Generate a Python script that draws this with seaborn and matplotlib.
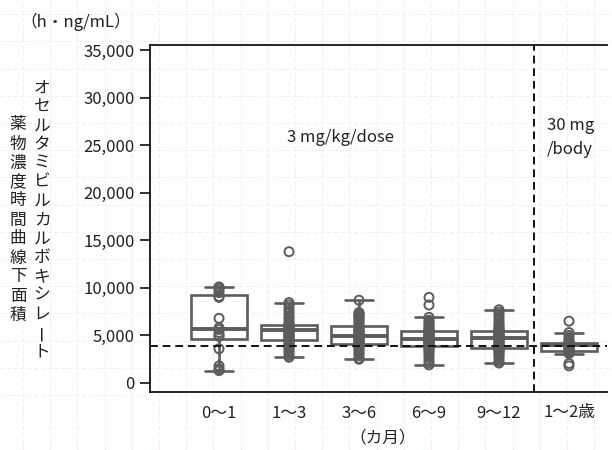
import numpy as np
import pandas as pd
import matplotlib
matplotlib.use("Agg")
import matplotlib.pyplot as plt
from matplotlib.lines import Line2D
import seaborn as sns

# AUC of oseltamivir carboxylate by age group (h・ng/mL)
categories = ["0〜1", "1〜3", "3〜6", "6〜9", "9〜12", "1〜2歳"]
auc_0_1 = [1300, 1500, 1800, 3600, 4900, 5000, 5300, 5600, 5800, 6800,
           9000, 9100, 9500, 9800, 10000, 10100]
auc_1_3 = [2700, 2900, 3200, 3400, 3600, 3800, 3900, 4000, 4100, 4300,
           4500, 4600, 4700, 4800, 4900, 5000, 5100, 5200, 5300, 5400,
           5550, 5600, 5650, 5700, 5750, 5800, 5850, 5900, 5950, 6000,
           6100, 6300, 6500, 6800, 7000, 7300, 7600, 7900, 8200, 8450, 13800]
auc_3_6 = [2500, 2600, 2900, 3100, 3300, 3500, 3700, 3800, 3900, 4000,
           4100, 4200, 4300, 4400, 4500, 4600, 4700, 4750, 4800, 4900,
           4950, 5000, 5100, 5200, 5300, 5400, 5500, 5600, 5700, 5850,
           6000, 6200, 6400, 6600, 6800, 7000, 7100, 7200, 7300, 7400, 8700]
auc_6_9 = [1900, 2100, 2400, 2700, 3000, 3200, 3400, 3550, 3700, 3800,
           3850, 3900, 4000, 4100, 4200, 4250, 4300, 4400, 4450, 4500,
           4600, 4700, 4750, 4800, 4900, 5000, 5050, 5150, 5250, 5350,
           5450, 5550, 5700, 5850, 6000, 6200, 6400, 6600, 6900, 8200, 9000]
auc_9_12 = [2100, 2300, 2600, 2800, 3000, 3200, 3350, 3450, 3550, 3600,
            3650, 3750, 3850, 3950, 4050, 4150, 4300, 4400, 4500, 4600,
            4700, 4800, 4900, 4950, 5000, 5100, 5200, 5300, 5350, 5450,
            5500, 5600, 5750, 5900, 6100, 6300, 6600, 6900, 7200, 7450, 7700]
auc_1_2y = [1800, 2050, 3100, 3200, 3300, 3350, 3400, 3500, 3600, 3700,
            3800, 3900, 3950, 4000, 4050, 4100, 4150, 4180, 4200, 4300,
            4500, 4700, 5000, 5300, 6500]
groups = [auc_0_1, auc_1_3, auc_3_6, auc_6_9, auc_9_12, auc_1_2y]

yticks = [0, 5000, 10000, 15000, 20000, 25000, 30000, 35000]
adult_ref = 3900  # dashed reference line
col_right = "オセルタミビルカルボキシレート"
col_left = "薬物濃度時間曲線下面積"

df = pd.DataFrame({
    "age": np.repeat(categories, [len(g) for g in groups]),
    "auc": np.concatenate(groups),
})

sns.set_style("white")
plt.rcParams["font.family"] = ["Noto Sans CJK JP", "DejaVu Sans"]

W, H = 612, 450
fig = plt.figure(figsize=(W / 100, H / 100), dpi=100)

# faint pink graph-paper background
grid_kw = dict(transform=fig.transFigure, color="#f9e9e9", lw=0.7,
               ls=(0, (4, 3)), zorder=0)
for gx in np.arange(23, W, 27.2):
    fig.add_artist(Line2D([gx / W, gx / W], [0, 1], **grid_kw))
for gy in np.arange(395, 0, -27.2):
    fig.add_artist(Line2D([0, 1], [1 - gy / H, 1 - gy / H], **grid_kw))

ax = fig.add_axes([150 / W, 1 - 392 / H, (607 - 150) / W, (392 - 45) / H])
ax.patch.set_alpha(0)

gray = "#5c5c5c"
sns.boxplot(data=df, x="age", y="auc", order=categories, width=0.8,
            showfliers=False, color="white", linecolor=gray, linewidth=1.9,
            medianprops=dict(linewidth=2.8), ax=ax)
n_before = len(ax.collections)
sns.stripplot(data=df, x="age", y="auc", order=categories, jitter=False,
              size=6.5, color=gray, linewidth=1.4, edgecolor=gray, ax=ax)
for coll in ax.collections[n_before:]:
    coll.set_facecolor("none")
    coll.set_edgecolor(gray)
    coll.set_zorder(4)

ax.axhline(adult_ref, color="#111111", lw=1.4, ls=(0, (4, 2.5)), zorder=6)
ax.axvline(4.5, color="#111111", lw=1.4, ls=(0, (4, 2.5)), zorder=6)

ax.set_xlim(-0.986, 5.543)
ax.set_ylim(-946, 35525)
ax.set_yticks(yticks)
ax.set_yticklabels([f"{v:,}" for v in yticks])
ax.tick_params(axis="y", left=True, direction="out", length=7, width=1.3,
               pad=4, labelsize=12, colors="#222222")
ax.tick_params(axis="x", bottom=False, length=0, pad=9, labelsize=12,
               colors="#222222")
ax.set_xlabel("")
ax.set_ylabel("")
for side in ["left", "top", "bottom"]:
    ax.spines[side].set_visible(True)
    ax.spines[side].set_color("#111111")
    ax.spines[side].set_linewidth(1.3)
ax.spines["right"].set_visible(False)

ax.text(1.73, 25800, "3 mg/kg/dose", ha="center", va="center", fontsize=12,
        color="#222222")
ax.text(4.68, 25800, "30 mg\n/body", ha="left", va="center", fontsize=12,
        color="#222222", linespacing=1.5)

fig.text(76 / W, 1 - 22 / H, "（h・ng/mL）", ha="center", va="center",
         fontsize=12, color="#222222")
fig.text(383 / W, 1 - 438 / H, "（カ月）", ha="center", va="center",
         fontsize=12, color="#222222")

# vertical (tategaki) y-axis title, one glyph at a time
for i, ch in enumerate(col_right):
    fig.text(42 / W, 1 - (88 + i * 18.86) / H, ch, ha="center", va="center",
             fontsize=12, color="#222222", rotation=90 if ch == "ー" else 0)
for i, ch in enumerate(col_left):
    fig.text(18 / W, 1 - (125 + i * 19) / H, ch, ha="center", va="center",
             fontsize=12, color="#222222")

fig.savefig("out.png", dpi=100)
